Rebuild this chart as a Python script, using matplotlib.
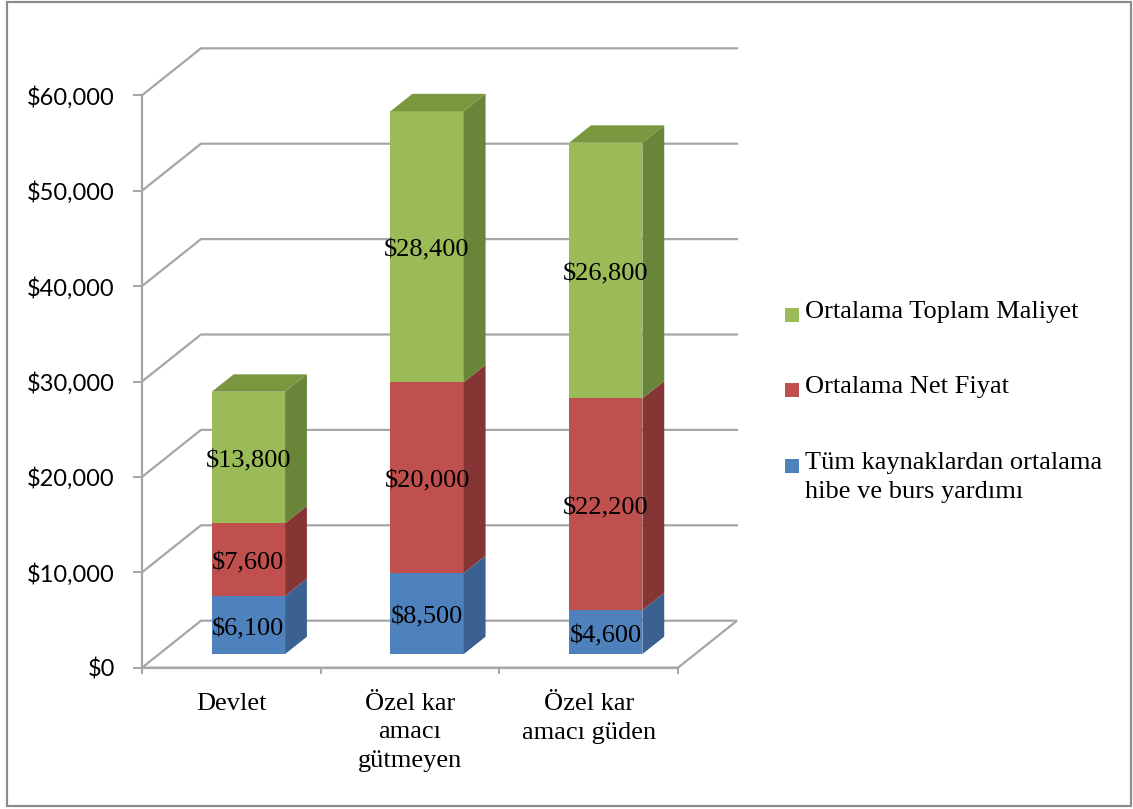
import matplotlib
matplotlib.use("Agg")
import matplotlib.pyplot as plt
from matplotlib.patches import Polygon, Rectangle
from matplotlib.ticker import FuncFormatter

# data
categories = ["Devlet", "Özel kar\namacı\ngütmeyen", "Özel kar\namacı güden"]
grant_aid = [6100, 8500, 4600]
net_price = [7600, 20000, 22200]
total_cost = [13800, 28400, 26800]
series_names = ["Tüm kaynaklardan ortalama\nhibe ve burs yardımı",
                "Ortalama Net Fiyat",
                "Ortalama Toplam Maliyet"]
y_ticks = [0, 10000, 20000, 30000, 40000, 50000, 60000]

# colours: front / side / top faces per series
front_c = ["#4F81BD", "#C0504D", "#9BBB59"]
side_c = ["#3A6190", "#853634", "#68853A"]
top_c = ["#5C8CC6", "#CB5E5B", "#7A973F"]
grid_c = "#A6A6A6"

serif = "Liberation Serif"

W, H = 1133, 809
fig = plt.figure(figsize=(W / 100, H / 100), dpi=100)
ax = fig.add_axes([142 / W, (H - 667.7) / H, 536 / W, 572.4 / H])
ax.set_xlim(-0.5, 2.5)
ax.set_ylim(0, 60000)

# oblique depth direction in data units (full depth of the box)
DX = 59 / 178.67
DY = 4927
bar_w = 0.41
d0, dd = 0.29, 0.37   # front position of bars and their depth

# back walls and floor
for v in y_ticks[1:]:
    ax.plot([-0.5, -0.5 + DX, 2.5 + DX], [v, v + DY, v + DY],
            color=grid_c, lw=1.6, clip_on=False, zorder=1)
floor = Polygon([(-0.5, 0), (2.5, 0), (2.5 + DX, DY), (-0.5 + DX, DY)],
                closed=True, facecolor="white", edgecolor=grid_c, lw=1.6,
                clip_on=False, zorder=1)
ax.add_patch(floor)

# stacked 3d bars
series = [grant_aid, net_price, total_cost]
for i in range(len(categories)):
    base = 0
    for k, vals in enumerate(series):
        h = vals[i]
        x0 = i - bar_w / 2 + d0 * DX
        x1 = x0 + bar_w
        y0 = base + d0 * DY
        y1 = y0 + h
        ax.add_patch(Rectangle((x0, y0), bar_w, h, facecolor=front_c[k],
                               edgecolor="none", clip_on=False, zorder=3))
        ax.add_patch(Polygon([(x1, y0), (x1 + dd * DX, y0 + dd * DY),
                              (x1 + dd * DX, y1 + dd * DY), (x1, y1)],
                             closed=True, facecolor=side_c[k], edgecolor="none",
                             clip_on=False, zorder=3))
        if k == len(series) - 1:
            ax.add_patch(Polygon([(x0, y1), (x1, y1),
                                  (x1 + dd * DX, y1 + dd * DY),
                                  (x0 + dd * DX, y1 + dd * DY)],
                                 closed=True, facecolor=top_c[k],
                                 edgecolor="none", clip_on=False, zorder=3))
        ax.annotate(f"${h:,}", (i + d0 * DX, y0 + h / 2), xytext=(0, -3),
                    textcoords="offset points", ha="center", va="center",
                    family=serif, fontsize=19, zorder=4)
        base += h

# axes styling
for s in ["top", "right"]:
    ax.spines[s].set_visible(False)
for s in ["left", "bottom"]:
    ax.spines[s].set_color(grid_c)
    ax.spines[s].set_linewidth(1.6)
    ax.spines[s].set_zorder(2)

ax.set_yticks(y_ticks)
ax.yaxis.set_major_formatter(FuncFormatter(lambda v, p: f"${v:,.0f}"))
ax.tick_params(axis="y", length=6.5, width=1.4, color=grid_c, pad=13)
for lab in ax.get_yticklabels():
    lab.set_family("Lato")
    lab.set_fontsize(17)

ax.set_xticks([-0.5, 0.5, 1.5, 2.5])
ax.set_xticklabels([])
ax.tick_params(axis="x", which="major", length=4, width=1.4, color=grid_c)
ax.set_xticks([0, 1, 2], minor=True)
ax.set_xticklabels(categories, minor=True, family=serif, fontsize=19,
                   linespacing=1.4)
ax.tick_params(axis="x", which="minor", length=0, pad=18)
ax.set_facecolor("none")

# legend
leg_y = [315, 390, 466]
for k in [2, 1, 0]:
    y = leg_y[2 - k]
    fig.add_artist(Rectangle((785 / W, 1 - (y + 7) / H), 14 / W, 14 / H,
                             transform=fig.transFigure, facecolor=front_c[k],
                             edgecolor="none"))
    fig.text(805 / W, 1 - (y - 14) / H, series_names[k], ha="left", va="top",
             family=serif, fontsize=19, linespacing=1.4)

# outer frame
fig.add_artist(Rectangle((6.5 / W, 3 / H), 1124.5 / W, 804 / H,
                         transform=fig.transFigure, facecolor="none",
                         edgecolor="#8C8C8C", lw=1.6))

fig.savefig("out.png", dpi=100)
